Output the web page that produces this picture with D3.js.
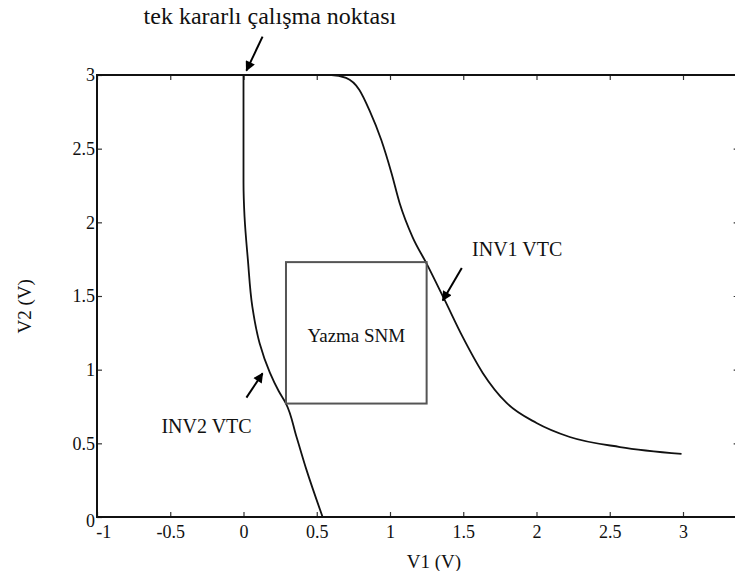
<!DOCTYPE html>
<html lang="en">
<head>
<meta charset="utf-8">
<title>Yazma SNM</title>
<script src="https://d3js.org/d3.v7.min.js"></script>
<style>
 body { margin: 0; background: #fff; }
</style>
</head>
<body>
<script>
// chart values
const inv1X = [0.0, 0.5, 0.6, 0.7, 0.79, 0.86, 0.94, 1.01, 1.066, 1.154, 1.25, 1.373, 1.496, 1.633, 1.796, 2.0, 2.227, 2.57, 2.99];
const inv1Y = [3.0, 3.0, 3.0, 2.98, 2.90, 2.76, 2.56, 2.335, 2.13, 1.90, 1.72, 1.473, 1.222, 0.978, 0.774, 0.638, 0.543, 0.475, 0.428];
const inv2X = [0.54, 0.43, 0.36, 0.29, 0.24, 0.18, 0.11, 0.06, 0.03, 0.007, 0.0, 0.0];
const inv2Y = [0.0, 0.32, 0.55, 0.77, 0.855, 0.98, 1.18, 1.43, 1.745, 2.04, 2.27, 3.0];
const snmBox = [0.29, 1.25, 0.77, 1.73]; // x0, x1, y0, y1
const xTicks = [-1, -0.5, 0, 0.5, 1, 1.5, 2, 2.5, 3];
const yTicks = [0, 0.5, 1, 1.5, 2, 2.5, 3];
const xMax = 3.38;

const W = 735, H = 571;
const FONT = '"Liberation Serif", "DejaVu Serif", "Times New Roman", serif';
const x = d3.scaleLinear().domain([-1, 3]).range([97, 683]);
const y = d3.scaleLinear().domain([0, 3]).range([517, 75]);

const svg = d3.select('body').append('svg')
  .attr('width', W).attr('height', H);

svg.append('defs').append('marker')
  .attr('id', 'head')
  .attr('viewBox', '0 0 10 10')
  .attr('refX', 9).attr('refY', 5)
  .attr('markerWidth', 12).attr('markerHeight', 10)
  .attr('markerUnits', 'userSpaceOnUse')
  .attr('orient', 'auto')
  .append('path').attr('d', 'M0,0 L10,5 L0,10 Z').attr('fill', '#000');

// axes (ticks point inwards)
const fmt = d => String(d);
const axB = svg.append('g').attr('transform', `translate(0,${y(0)})`)
  .call(d3.axisBottom(x).tickValues(xTicks).tickSize(-5).tickPadding(8).tickFormat(fmt));
const axT = svg.append('g').attr('transform', `translate(0,${y(3)})`)
  .call(d3.axisTop(x).tickValues(xTicks).tickSize(-5).tickFormat(''));
const axL = svg.append('g').attr('transform', `translate(${x(-1)},0)`)
  .call(d3.axisLeft(y).tickValues(yTicks).tickSize(-5).tickPadding(2).tickFormat(fmt));
const axR = svg.append('g').attr('transform', `translate(${x(xMax)},0)`)
  .call(d3.axisRight(y).tickValues(yTicks).tickSize(-5).tickFormat(''));

[axB, axT, axL, axR].forEach(g => {
  g.attr('font-family', null).attr('font-size', null);
  g.select('.domain').remove();
  g.selectAll('.tick line').attr('stroke', '#333').attr('stroke-width', 1.2);
  g.selectAll('text').style('font-family', FONT).style('font-size', '18px').attr('fill', '#111');
});
axL.selectAll('.tick').filter(d => d === 0).select('text').attr('dy', '0.55em');
axB.selectAll('.tick').filter(d => d === -1).select('text').attr('dx', '0.35em');

// frame
svg.append('path')
  .attr('d', `M${x(-1)},${y(3)} L${x(-1)},${y(0)} L${x(xMax)},${y(0)} L${x(xMax)},${y(3)} Z`)
  .attr('fill', 'none').attr('stroke', '#111').attr('stroke-width', 2);

// curves
const pts = (xs, ys) => xs.map((v, i) => [v, ys[i]]);
svg.append('path').datum(pts(inv1X, inv1Y))
  .attr('d', d3.line().x(d => x(d[0])).y(d => y(d[1])).curve(d3.curveMonotoneX))
  .attr('fill', 'none').attr('stroke', '#111').attr('stroke-width', 1.8);
svg.append('path').datum(pts(inv2X, inv2Y))
  .attr('d', d3.line().x(d => x(d[0])).y(d => y(d[1])).curve(d3.curveMonotoneY))
  .attr('fill', 'none').attr('stroke', '#111').attr('stroke-width', 1.8);

// SNM box
svg.append('rect')
  .attr('x', x(snmBox[0])).attr('y', y(snmBox[3]))
  .attr('width', x(snmBox[1]) - x(snmBox[0]))
  .attr('height', y(snmBox[2]) - y(snmBox[3]))
  .attr('fill', 'none').attr('stroke', '#555').attr('stroke-width', 2);

const label = (px, py, txt, size, anchor) => svg.append('text')
  .attr('x', px).attr('y', py)
  .attr('text-anchor', anchor || 'start')
  .style('font-family', FONT).style('font-size', size + 'px')
  .attr('fill', '#111').text(txt);

label(x((snmBox[0] + snmBox[1]) / 2), y(1.19), 'Yazma SNM', 19, 'middle');

// annotations
const arrows = [
  [[0.13, 3.26], [0.02, 3.03]],
  [[1.49, 1.69], [1.36, 1.47]],
  [[0.02, 0.81], [0.13, 0.975]]
];
arrows.forEach(a => {
  svg.append('line')
    .attr('x1', x(a[0][0])).attr('y1', y(a[0][1]))
    .attr('x2', x(a[1][0])).attr('y2', y(a[1][1]))
    .attr('stroke', '#000').attr('stroke-width', 2)
    .attr('marker-end', 'url(#head)');
});

label(x(0.18), y(3.345), 'tek kararlı çalışma noktası', 24, 'middle');
label(x(1.56), y(1.77), 'INV1 VTC', 20);
label(x(-0.56), y(0.57), 'INV2 VTC', 20);

// axis titles
label(x(1.3), 568, 'V1 (V)', 19, 'middle');
svg.append('text').attr('transform', `translate(31,${y(1.43)}) rotate(-90)`)
  .attr('text-anchor', 'middle').style('font-family', FONT).style('font-size', '19px')
  .attr('fill', '#111').text('V2 (V)');
</script>
</body>
</html>
